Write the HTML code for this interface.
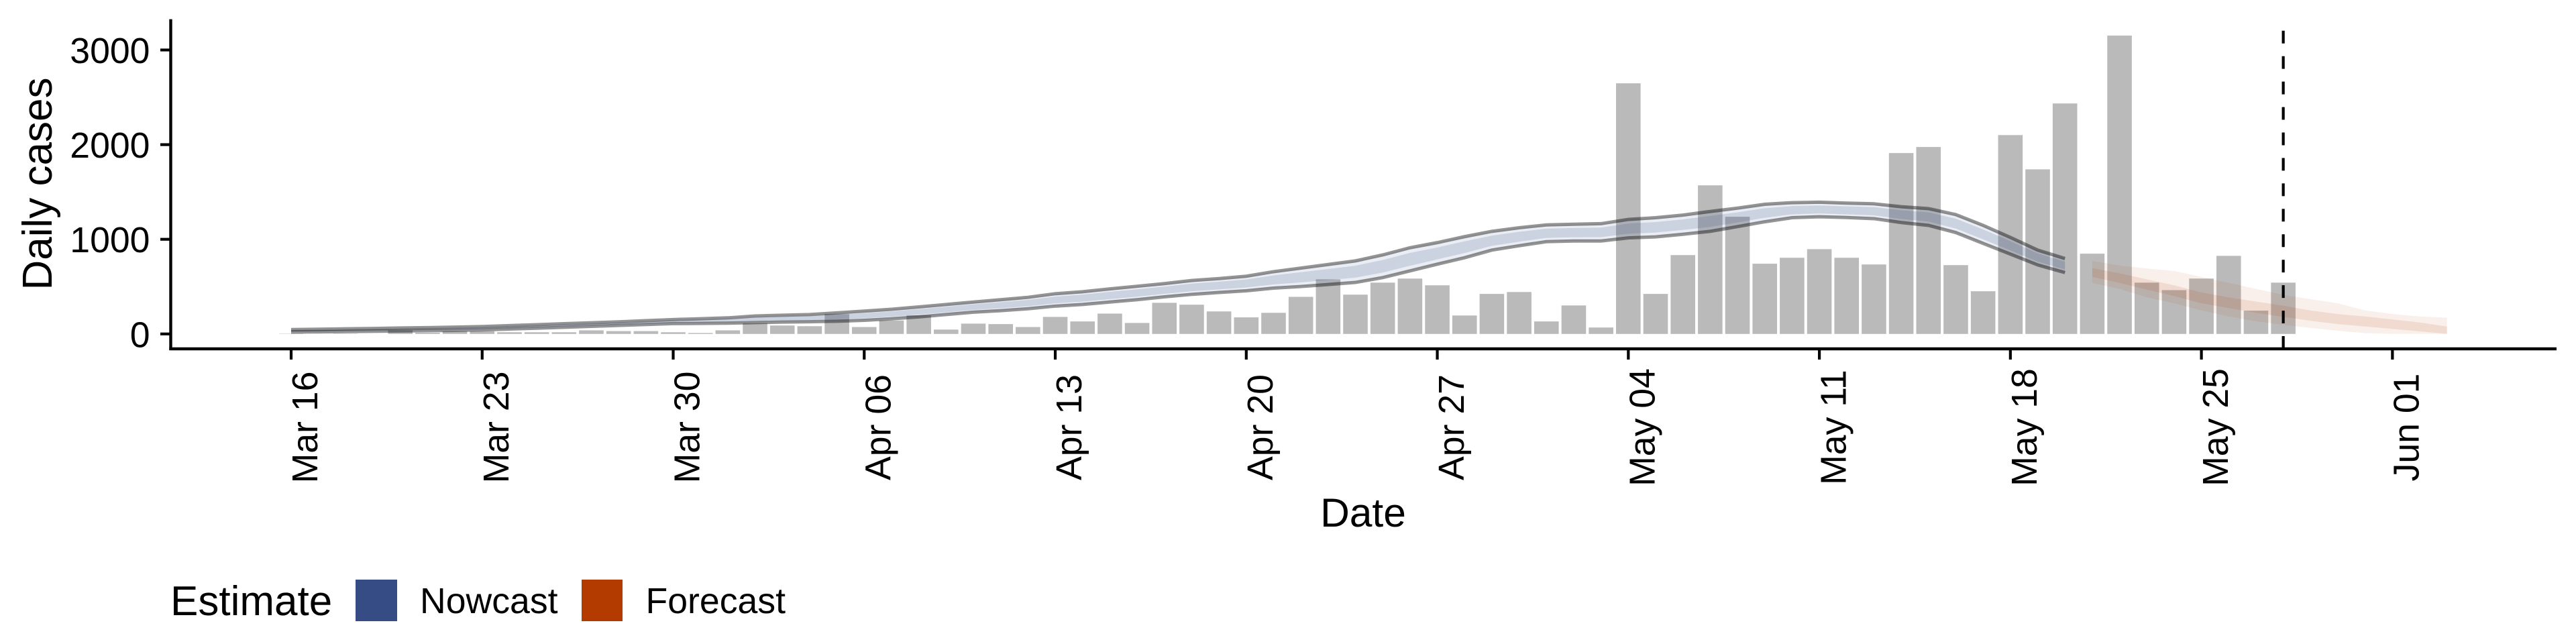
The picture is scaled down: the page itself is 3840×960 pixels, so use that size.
<!DOCTYPE html>
<html lang="en">
<head>
<meta charset="utf-8">
<title>Daily cases chart</title>
<style>
html,body{margin:0;padding:0;background:#fff;}
svg{display:block;}
text{font-family:"Liberation Sans",Arial,sans-serif;fill:#000;}
</style>
</head>
<body>
<svg id="chart" xmlns="http://www.w3.org/2000/svg" width="3840" height="960" viewBox="0 0 3840 960">
  <rect width="3840" height="960" fill="#ffffff"/>
  <text x="77" y="274" font-size="62" text-anchor="middle" transform="rotate(-90 77 274)">Daily cases</text>
  <text x="2032" y="785" font-size="60.5" text-anchor="middle">Date</text>
  <g>
    <text x="254" y="917" font-size="62">Estimate</text>
    <rect x="530" y="864" width="62" height="62" fill="#354c85"/>
    <text x="626" y="914" font-size="53.6">Nowcast</text>
    <rect x="867" y="864" width="61" height="62" fill="#b33b00"/>
    <text x="962.5" y="914" font-size="53.6">Forecast</text>
  </g>
</svg>
<script>
// Reported daily cases, one per day beginning Mar 16
const dailyCases = [3,0,3,0,38,13,28,28,18,18,18,38,30,30,18,10,38,114,89,82,210,73,142,197,46,109,104,73,180,132,215,116,329,309,238,175,223,392,577,415,542,585,514,195,423,443,132,301,68,2648,423,833,1570,1238,742,805,896,805,734,1911,1975,727,451,2101,1739,2435,848,3152,542,463,585,825,246,542];

// Nowcast ribbon bounds, one per day from Mar 16
const nowcastUpper90 = [46,50,54,58,63,67,72,78,88,98,108,118,128,140,152,161,170,190,198,205,223,241,261,286,311,337,362,387,425,446,476,504,532,565,585,610,658,696,734,772,835,911,965,1028,1084,1122,1152,1159,1165,1210,1228,1256,1294,1329,1370,1387,1392,1382,1375,1344,1324,1261,1147,1020,886,797];
const nowcastLower90 = [20,22,25,28,31,34,38,43,52,61,70,80,90,100,109,111,114,120,125,129,134,144,160,180,205,230,246,266,294,311,337,362,392,418,438,456,484,501,522,544,595,666,737,805,886,932,975,982,982,1015,1025,1053,1084,1134,1185,1228,1238,1230,1218,1177,1147,1071,957,843,729,648];
const nowcastUpper50 = [40,44,47,51,56,60,64,70,80,90,99,109,119,131,142,150,157,174,182,188,203,219,238,262,287,313,336,360,395,416,445,472,500,532,552,575,619,652,686,721,781,856,914,978,1039,1079,1112,1119,1124,1166,1182,1210,1247,1285,1328,1351,1357,1348,1340,1306,1284,1218,1104,980,851,763];
const nowcastLower50 = [26,28,32,35,38,41,46,51,60,69,79,89,99,109,119,122,127,136,141,146,154,166,183,204,229,254,272,293,323,341,368,394,424,451,471,491,523,545,570,595,649,721,788,855,931,975,1015,1022,1023,1059,1071,1099,1131,1178,1227,1264,1273,1264,1253,1215,1187,1114,1000,883,764,682];

// Forecast ribbon bounds, one per day from May 21
const forecastUpper90 = [772,722,691,666,603,539,476,413,367,324,248,210,185,172];
const forecastLower90 = [539,476,387,324,248,185,134,96,63,33,8,0,0,0];
const forecastUpper50 = [696,641,577,514,438,387,342,299,248,210,185,154,122,78];
const forecastLower50 = [603,539,468,400,324,273,223,180,139,104,78,53,28,0];

// Axis labels
const xTickLabels = ["Mar 16","Mar 23","Mar 30","Apr 06","Apr 13","Apr 20","Apr 27","May 04","May 11","May 18","May 25","Jun 01"];
const yTickValues = [0,1000,2000,3000];
const forecastStartDay = 66;
const forecastDateDay = 73;

const svg = document.getElementById('chart');
const NS = 'http://www.w3.org/2000/svg';
const xScale = d => 434 + d * 40.68;
const yScale = v => 497.8 - v * 0.1411;

function make(tag, attrs) {
  const el = document.createElementNS(NS, tag);
  for (const k in attrs) el.setAttribute(k, attrs[k]);
  svg.appendChild(el);
  return el;
}
function ribbonPath(upper, lower, start) {
  const top = upper.map((v, i) => xScale(start + i).toFixed(2) + ',' + yScale(v).toFixed(2));
  const bottom = lower.map((v, i) => xScale(start + i).toFixed(2) + ',' + yScale(v).toFixed(2)).reverse();
  return 'M' + top.concat(bottom).join('L') + 'Z';
}
function linePath(values, start) {
  return 'M' + values.map((v, i) => xScale(start + i).toFixed(2) + ',' + yScale(v).toFixed(2)).join('L');
}

// Bars
dailyCases.forEach((v, i) => {
  const bar = make('rect', {x: xScale(i) - 18.3, y: yScale(v), width: 36.6, height: Math.max(0, yScale(0) - yScale(v)), fill: '#bababa'});
  
  
});

// Nowcast ribbons
const nowOuter = make('path', {d: ribbonPath(nowcastUpper90, nowcastLower90, 0), fill: '#354c85', 'fill-opacity': 0.1});


const nowInner = make('path', {d: ribbonPath(nowcastUpper50, nowcastLower50, 0), fill: '#354c85', 'fill-opacity': 0.17});



// Forecast ribbons
const foreOuter = make('path', {d: ribbonPath(forecastUpper90, forecastLower90, forecastStartDay), fill: '#b33b00', 'fill-opacity': 0.08});


const foreInner = make('path', {d: ribbonPath(forecastUpper50, forecastLower50, forecastStartDay), fill: '#b33b00', 'fill-opacity': 0.11});



// Nowcast bound lines
const upperLine = make('path', {d: linePath(nowcastUpper90, 0), fill: 'none', stroke: '#000', 'stroke-opacity': 0.42, 'stroke-width': 5});


const lowerLine = make('path', {d: linePath(nowcastLower90, 0), fill: 'none', stroke: '#000', 'stroke-opacity': 0.42, 'stroke-width': 5});



// Forecast-date dashed line, drawn bottom-up
const dashed = make('line', {x1: xScale(forecastDateDay), x2: xScale(forecastDateDay), y1: 520, y2: 28.6, stroke: '#000', 'stroke-width': 4.2, 'stroke-dasharray': '18.97 18.97'});



// Axes
const yAxis = make('line', {x1: 254.5, x2: 254.5, y1: 28.6, y2: 522, stroke: '#000', 'stroke-width': 4.4});


const xAxis = make('line', {x1: 252.3, x2: 3811, y1: 520, y2: 520, stroke: '#000', 'stroke-width': 4.4});



yTickValues.forEach(v => {
  const tick = make('line', {x1: 239, x2: 254.5, y1: yScale(v), y2: yScale(v), stroke: '#000', 'stroke-width': 4.2});
  
  
  const label = make('text', {x: 223.5, y: yScale(v) + 19.5, 'font-size': 53.6, 'text-anchor': 'end'});
  
  
  label.textContent = String(v);
});

xTickLabels.forEach((t, i) => {
  const px = xScale(i * 7);
  const tick = make('line', {x1: px, x2: px, y1: 520, y2: 536, stroke: '#000', 'stroke-width': 4.2});
  
  
  const bx = px + 39.2;
  const label = make('text', {x: bx, y: 637, 'font-size': 53.6, 'text-anchor': 'middle', transform: 'rotate(-90 ' + bx + ' 637)'});
  
  
  label.textContent = t;
});
</script>
</body>
</html>
